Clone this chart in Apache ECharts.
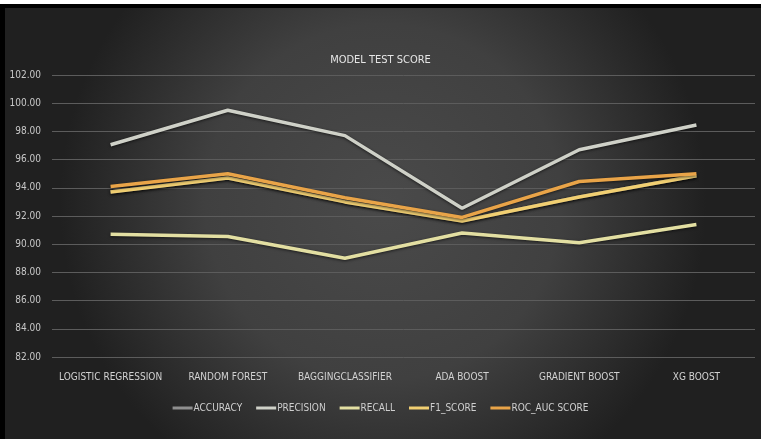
<!DOCTYPE html>
<html>
<head>
<meta charset="utf-8">
<script src="https://cdn.jsdelivr.net/npm/echarts@6/dist/echarts.min.js"></script>
<style>
html,body{margin:0;padding:0;background:#fff;}
#c{width:761px;height:439px;}
</style>
</head>
<body>
<div id="c"></div>
<script>
const categories = ['LOGISTIC REGRESSION','RANDOM FOREST','BAGGINGCLASSIFIER','ADA BOOST','GRADIENT BOOST','XG BOOST'];
const accuracy  = [93.7, 94.7, 93.0, 91.65, 93.35, 94.85];
const precision = [97.05, 99.5, 97.7, 92.55, 96.7, 98.45];
const recall    = [90.7, 90.55, 89.0, 90.8, 90.1, 91.4];
const f1Score   = [93.7, 94.7, 93.0, 91.65, 93.35, 94.85];
const rocAuc    = [94.1, 95.0, 93.3, 91.9, 94.45, 95.0];
const yMin = 82, yMax = 102, yStep = 2;

const font = "'Liberation Sans Narrow','DejaVu Sans Condensed','Roboto Condensed','Liberation Sans',sans-serif";
const chart = echarts.init(document.getElementById('c'), null, {renderer:'canvas'});

function line(name, data, color, z){
  return {
    name, type:'line', data, symbol:'none', z,
    lineStyle:{color, width:3.5, shadowColor:'rgba(0,0,0,0.6)', shadowBlur:3, shadowOffsetY:1},
    itemStyle:{color}
  };
}

chart.setOption({
  animation:false,
  backgroundColor:'#ffffff',
  graphic:[
    {type:'rect', z:-10, shape:{x:0,y:4,width:761,height:435}, style:{fill:'#000'}},
    {type:'rect', z:-9, shape:{x:5,y:8,width:756,height:431},
      style:{fill:{type:'radial', x:0.5, y:0.45, r:0.75, colorStops:[
        {offset:0,color:'#4a4a4a'},{offset:0.55,color:'#404040'},{offset:1,color:'#202020'}]}}}
  ],
  title:{
    text:'MODEL TEST SCORE', left:'center', top:50,
    textStyle:{color:'#e6e6e6', fontSize:11, fontWeight:'normal', fontFamily:font}
  },
  legend:{
    bottom:21, left:'center', itemWidth:20, itemHeight:3, itemGap:14, icon:'rect',
    textStyle:{color:'#cfcfcf', fontSize:10, fontFamily:font, padding:[0,0,0,-4]},
    data:['ACCURACY','PRECISION','RECALL','F1_SCORE','ROC_AUC SCORE']
  },
  grid:{left:52, right:6, top:75, bottom:82},
  xAxis:{
    type:'category', data:categories, boundaryGap:true,
    axisLine:{show:false}, axisTick:{show:false},
    axisLabel:{color:'#d2d2d2', fontSize:10, fontFamily:font, margin:15, interval:0}
  },
  yAxis:{
    type:'value', min:yMin, max:yMax, interval:yStep,
    axisLine:{show:false}, axisTick:{show:false},
    axisLabel:{color:'#c8c8c8', fontSize:10, fontFamily:font, margin:11,
      formatter:v=>v.toFixed(2)},
    splitLine:{lineStyle:{color:'#5c5c5c', width:1}}
  },
  series:[
    line('ACCURACY', accuracy, '#8f8f8f', 1),
    line('PRECISION', precision, '#cfd1c8', 2),
    line('RECALL', recall, '#e3dfa2', 3),
    line('F1_SCORE', f1Score, '#f1cf72', 4),
    line('ROC_AUC SCORE', rocAuc, '#e9a448', 5)
  ]
});
</script>
</body>
</html>
